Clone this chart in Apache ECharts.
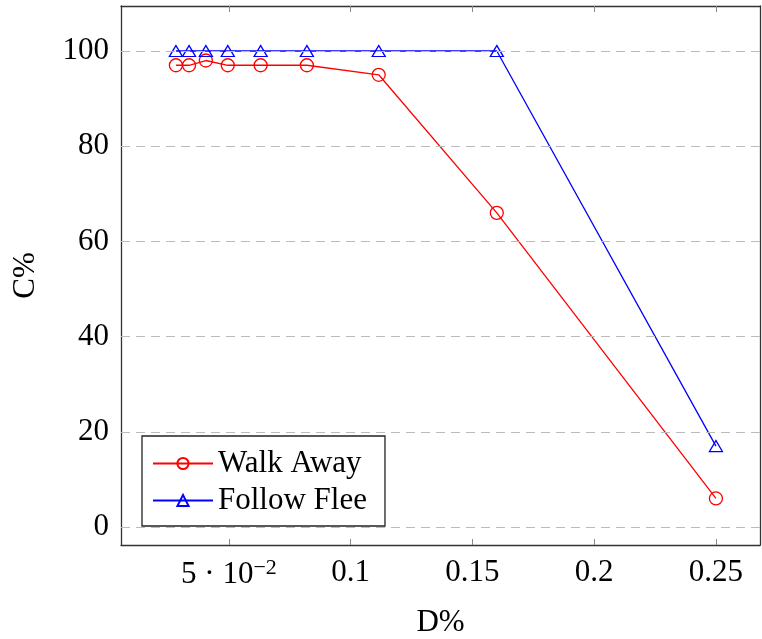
<!DOCTYPE html>
<html>
<head>
<meta charset="utf-8">
<script src="https://cdn.jsdelivr.net/npm/echarts@6/dist/echarts.min.js"></script>
<style>html,body{margin:0;padding:0;background:#fff}#c{width:762px;height:639px}</style>
</head>
<body>
<div id="c"></div>
<script>
const dValues = [0.0282, 0.0336, 0.0405, 0.0495, 0.063, 0.082, 0.1115, 0.16, 0.25];
const walkAway = [97, 97, 98, 97, 97, 97, 95, 66, 6];
const followFlee = [100, 100, 100, 100, 100, 100, 100, 100, 17];
const xTicks = [0.05, 0.1, 0.15, 0.2, 0.25];
const yTicks = [0, 20, 40, 60, 80, 100];
const seriesNames = ['Walk Away', 'Follow Flee'];

const FONT = 'Liberation Serif';
const xMin = 0.00565, xMax = 0.2681, yMin = -3.78, yMax = 109.45;

function xLabel(v) {
  if (Math.abs(v - 0.05) < 1e-9) return '{n|5 · 10}{s|−2}';
  return '{n|' + String(+v.toFixed(2)) + '}';
}

const chart = echarts.init(document.getElementById('c'), null, {renderer: 'canvas'});
const tickStyle = {show: true, inside: true, length: 6, lineStyle: {color: '#888', width: 1}};
const axisLineStyle = {show: true, onZero: false, lineStyle: {color: '#333', width: 1.3}};

chart.setOption({
  animation: false,
  backgroundColor: '#fff',
  grid: {left: 121, top: 6, width: 639, height: 539, show: false, containLabel: false, outerBoundsMode: 'none'},
  legend: {
    left: 142, top: 436,
    orient: 'vertical',
    backgroundColor: '#fff',
    borderColor: '#222', borderWidth: 1.3,
    padding: [12, 18, 10, 10],
    itemGap: 6,
    itemWidth: 60, itemHeight: 14,
    textStyle: {fontFamily: FONT, fontSize: 31, color: '#000'},
    data: seriesNames
  },
  xAxis: [{
    type: 'value', min: xMin, max: xMax, position: 'bottom',
    name: 'D%', nameLocation: 'middle', nameGap: 62,
    nameTextStyle: {fontFamily: FONT, fontSize: 31, color: '#000'},
    axisLine: axisLineStyle,
    axisTick: Object.assign({customValues: xTicks}, tickStyle),
    axisLabel: {
      customValues: xTicks, margin: 12, formatter: xLabel,
      rich: {
        n: {fontFamily: FONT, fontSize: 31, color: '#000'},
        s: {fontFamily: FONT, fontSize: 22, color: '#000', verticalAlign: 'bottom', padding: [0, 0, 14, 0]}
      }
    },
    splitLine: {show: false}
  }, {
    type: 'value', min: xMin, max: xMax, position: 'top',
    axisLine: axisLineStyle,
    axisTick: Object.assign({customValues: xTicks}, tickStyle),
    axisLabel: {show: false},
    splitLine: {show: false}
  }],
  yAxis: [{
    type: 'value', min: yMin, max: yMax, position: 'left',
    name: 'C%', nameLocation: 'middle', nameGap: 80, nameRotate: 90,
    nameTextStyle: {fontFamily: FONT, fontSize: 31, color: '#000'},
    axisLine: axisLineStyle,
    axisTick: Object.assign({customValues: yTicks}, tickStyle),
    axisLabel: {customValues: yTicks, margin: 12, fontFamily: FONT, fontSize: 31, color: '#000'},
    splitLine: {show: false}
  }, {
    type: 'value', min: yMin, max: yMax, position: 'right',
    axisLine: axisLineStyle,
    axisTick: Object.assign({customValues: yTicks}, tickStyle),
    axisLabel: {show: false},
    splitLine: {show: false}
  }],
  series: [{
    name: 'gridlines', type: 'line', data: [], xAxisIndex: 0, yAxisIndex: 0,
    markLine: {
      silent: true, symbol: 'none', label: {show: false},
      lineStyle: {color: '#bbb', type: [9, 6], width: 1.2},
      data: yTicks.map(v => ({yAxis: v}))
    },
    z: 1
  }, {
    name: seriesNames[0], type: 'line', xAxisIndex: 0, yAxisIndex: 0,
    data: dValues.map((d, i) => [d, walkAway[i]]),
    symbol: 'circle', symbolSize: 13,
    lineStyle: {color: '#ff0000', width: 1.3},
    itemStyle: {color: 'rgba(255,255,255,0)', borderColor: '#ff0000', borderWidth: 1.3},
    z: 3
  }, {
    name: seriesNames[1], type: 'line', xAxisIndex: 0, yAxisIndex: 0,
    data: dValues.map((d, i) => [d, followFlee[i]]),
    symbol: 'triangle', symbolSize: [13, 11],
    lineStyle: {color: '#0000ff', width: 1.3},
    itemStyle: {color: 'rgba(255,255,255,0)', borderColor: '#0000ff', borderWidth: 1.3},
    z: 3
  }]
});
</script>
</body>
</html>
